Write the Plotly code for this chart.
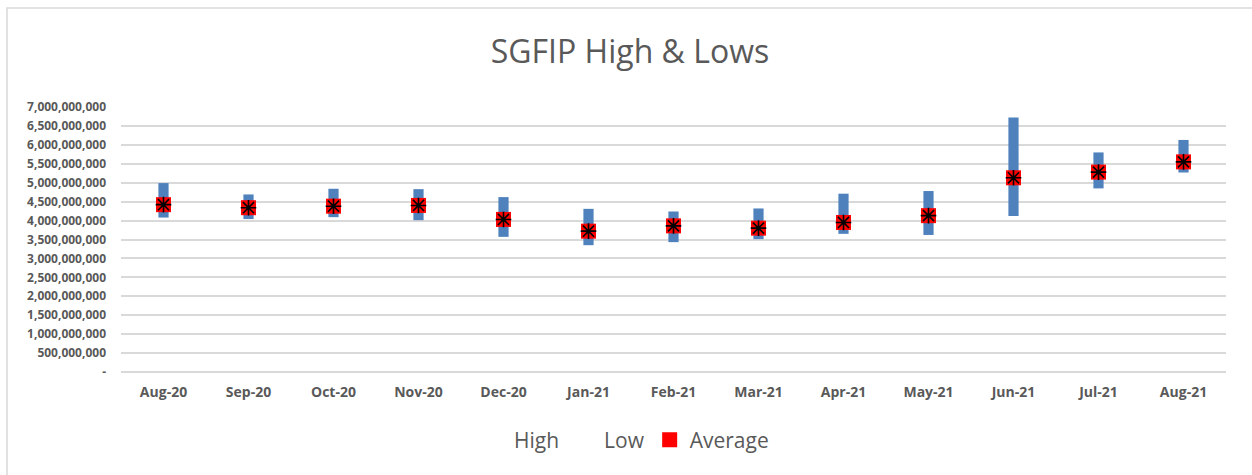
import plotly.graph_objects as go

months = ["Aug-20", "Sep-20", "Oct-20", "Nov-20", "Dec-20", "Jan-21", "Feb-21",
          "Mar-21", "Apr-21", "May-21", "Jun-21", "Jul-21", "Aug-21"]
high = [4.99e9, 4.69e9, 4.84e9, 4.83e9, 4.62e9, 4.31e9, 4.24e9,
        4.32e9, 4.71e9, 4.78e9, 6.72e9, 5.80e9, 6.13e9]
low = [4.08e9, 4.04e9, 4.09e9, 4.01e9, 3.57e9, 3.35e9, 3.43e9,
       3.51e9, 3.65e9, 3.62e9, 4.12e9, 4.85e9, 5.27e9]
average = [4.42e9, 4.34e9, 4.38e9, 4.40e9, 4.03e9, 3.72e9, 3.86e9,
           3.80e9, 3.95e9, 4.13e9, 5.13e9, 5.28e9, 5.55e9]
ytick_vals = [i * 500_000_000 for i in range(15)]
ytick_text = ["-"] + [f"{v:,}" for v in ytick_vals[1:]]

GRAY = "#595959"
FONT = "Open Sans"

fig = go.Figure()

# high-low range bars
fig.add_trace(go.Bar(
    x=months, y=[h - l for h, l in zip(high, low)], base=low,
    width=0.12, marker=dict(color="#4F81BD", line=dict(width=0)),
    showlegend=False, hoverinfo="skip"))

# legend-only entries for High / Low (no visible symbol)
fig.add_trace(go.Scatter(x=months, y=high, name="High", mode="markers",
                         marker=dict(opacity=0, size=1, color="white")))
fig.add_trace(go.Scatter(x=months, y=low, name="Low", mode="markers",
                         marker=dict(opacity=0, size=1, color="white")))

# average marker: red square with black asterisk
fig.add_trace(go.Scatter(x=months, y=average, name="Average", mode="markers",
                         marker=dict(symbol="square", size=15, color="#FF0000",
                                     line=dict(width=0))))
fig.add_trace(go.Scatter(x=months, y=average, mode="markers", showlegend=False,
                         marker=dict(symbol="asterisk-open", size=13, color="black",
                                     line=dict(color="black", width=1.6))))

W, H = 1252, 475
ml, mr, mt, mb = 121, 26, 107, 103
pw = W - ml - mr
ph = H - mt - mb

fig.update_layout(
    width=W, height=H,
    margin=dict(l=ml, r=mr, t=mt, b=mb),
    paper_bgcolor="white", plot_bgcolor="white",
    barmode="overlay",
    title=dict(text="SGFIP High & Lows", x=630 / W, xanchor="center",
               y=1 - 52 / H, yanchor="middle",
               font=dict(family=FONT, size=32, color=GRAY)),
    xaxis=dict(type="category", range=[-0.5, 12.5], showgrid=False,
               showline=False, zeroline=False, ticks="", ticklabelstandoff=10,
               tickfont=dict(family=FONT, size=14, color=GRAY, weight="bold")),
    yaxis=dict(range=[0, 7e9], tickvals=ytick_vals, ticktext=ytick_text,
               showgrid=True, gridcolor="#D9D9D9", gridwidth=1.5,
               zeroline=True, zerolinecolor="#D9D9D9", zerolinewidth=1.5,
               showline=False, ticks="", ticklabelstandoff=14,
               tickfont=dict(family=FONT, size=12, color=GRAY, weight="bold")),
    legend=dict(orientation="h", x=624 / W, xref="container", xanchor="center",
                y=1 - 440 / H, yref="container", yanchor="middle",
                font=dict(family=FONT, size=21, color=GRAY),
                itemwidth=30, bgcolor="rgba(0,0,0,0)"),
    shapes=[dict(type="rect", xref="paper", yref="paper",
                 x0=(7 - ml) / pw, x1=(1300 - ml) / pw,
                 y0=(H - mb - 520) / ph, y1=(H - mb - 8) / ph,
                 line=dict(color="#D9D9D9", width=1.5), fillcolor="rgba(0,0,0,0)",
                 layer="below")],
)

fig.write_html("out.html", config={"displayModeBar": False},
               post_script="document.body.style.margin='0';document.body.style.overflow='hidden';")
